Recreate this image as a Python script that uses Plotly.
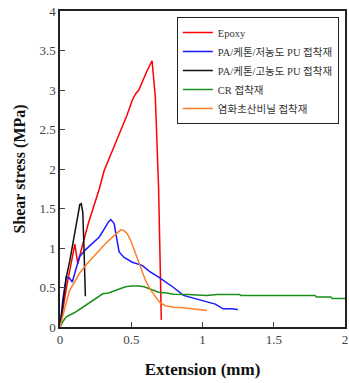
import plotly.graph_objects as go

epoxy_x = [0, 0.02, 0.05, 0.08, 0.104, 0.115, 0.125, 0.16, 0.2, 0.25, 0.276, 0.31, 0.35, 0.39, 0.43, 0.47, 0.507, 0.53, 0.553, 0.58, 0.61, 0.646, 0.669, 0.692, 0.711]
epoxy_y = [0, 0.22, 0.55, 0.82, 1.05, 0.92, 0.80, 1.05, 1.32, 1.6, 1.75, 1.98, 2.15, 2.32, 2.5, 2.68, 2.87, 2.95, 3.0, 3.12, 3.24, 3.37, 2.91, 1.75, 0.09]

hi_pu_x = [0, 0.02, 0.044, 0.07, 0.09, 0.114, 0.139, 0.149, 0.16, 0.17, 0.178]
hi_pu_y = [0, 0.3, 0.63, 0.85, 1.05, 1.31, 1.55, 1.56, 1.45, 0.9, 0.39]

lo_pu_x = [0, 0.02, 0.044, 0.065, 0.086, 0.11, 0.137, 0.18, 0.23, 0.276, 0.31, 0.34, 0.357, 0.38, 0.40, 0.415, 0.45, 0.507, 0.576, 0.63, 0.692, 0.75, 0.797, 0.866, 0.95, 1.03, 1.09, 1.144, 1.2, 1.248]
lo_pu_y = [0, 0.35, 0.63, 0.62, 0.57, 0.72, 0.89, 0.98, 1.07, 1.14, 1.24, 1.33, 1.36, 1.31, 1.1, 0.95, 0.88, 0.82, 0.78, 0.70, 0.63, 0.56, 0.50, 0.40, 0.36, 0.32, 0.29, 0.23, 0.23, 0.22]

cr_x = [0, 0.02, 0.044, 0.1, 0.16, 0.23, 0.3, 0.34, 0.39, 0.46, 0.5, 0.553, 0.59, 0.623, 0.66, 0.692, 0.75, 0.797, 0.9, 1.03, 1.1, 1.26, 1.27, 1.5, 1.79, 1.8, 1.9, 1.91, 2.0]
cr_y = [0, 0.07, 0.13, 0.18, 0.25, 0.33, 0.42, 0.43, 0.46, 0.51, 0.52, 0.52, 0.51, 0.485, 0.46, 0.44, 0.43, 0.415, 0.41, 0.40, 0.41, 0.41, 0.40, 0.40, 0.40, 0.38, 0.38, 0.36, 0.36]

pvc_x = [0, 0.02, 0.04, 0.067, 0.1, 0.137, 0.19, 0.253, 0.3, 0.345, 0.39, 0.426, 0.45, 0.472, 0.5, 0.53, 0.565, 0.6, 0.635, 0.669, 0.7, 0.739, 0.797, 0.866, 0.95, 1.03]
pvc_y = [0, 0.15, 0.28, 0.46, 0.56, 0.68, 0.8, 0.93, 1.02, 1.10, 1.17, 1.23, 1.22, 1.18, 1.08, 0.93, 0.75, 0.59, 0.47, 0.38, 0.31, 0.27, 0.25, 0.245, 0.23, 0.21]

names = ["Epoxy", "PA/케톤/저농도 PU 접착재", "PA/케톤/고농도 PU 접착재", "CR 접착재", "염화초산비닐 접착재"]
colors = ["#ff0000", "#1a1aff", "#111111", "#1a8f1a", "#ff7f2a"]
series = [(epoxy_x, epoxy_y), (lo_pu_x, lo_pu_y), (hi_pu_x, hi_pu_y), (cr_x, cr_y), (pvc_x, pvc_y)]

fig = go.Figure()
for (xs, ys), n, c in zip(series, names, colors):
    fig.add_trace(go.Scatter(x=xs, y=ys, mode="lines", name=n,
                             line=dict(color=c, width=1.5)))

serif = "Liberation Serif, 'Noto Sans CJK KR', serif"
fig.update_layout(
    width=349, height=383,
    margin=dict(l=60, r=1, t=11, b=56),
    plot_bgcolor="white", paper_bgcolor="white",
    font=dict(family=serif, color="#333"),
    showlegend=True,
    legend=dict(x=0.41, y=0.981, xanchor="left", yanchor="top",
                bordercolor="#222", borderwidth=1, bgcolor="white",
                font=dict(family=serif, size=10.5, color="#333"),
                tracegroupgap=0, itemwidth=30),
    xaxis=dict(range=[0, 2], tickvals=[0, 0.5, 1, 1.5, 2], ticktext=["0", "0.5", "1", "1.5", "2"],
               ticks="inside", ticklen=5, tickwidth=1.2, tickcolor="#444",
               ticklabeloverflow="allow",
               showline=True, linecolor="#222", linewidth=1.5, mirror=True,
               showgrid=False, zeroline=False,
               tickfont=dict(family=serif, size=13, color="#444"),
               title=dict(text="<b>Extension (mm)</b>", font=dict(family=serif, size=17, color="#111"), standoff=17)),
    yaxis=dict(range=[0, 4], tickvals=[0, 0.5, 1, 1.5, 2, 2.5, 3, 3.5, 4],
               ticktext=["0", "0.5", "1", "1.5", "2", "2.5", "3", "3.5", "4"],
               ticks="inside", ticklen=5, tickwidth=1.2, tickcolor="#444",
               showline=True, linecolor="#222", linewidth=1.5, mirror=True,
               showgrid=False, zeroline=False,
               tickfont=dict(family=serif, size=13, color="#444"),
               title=dict(text="<b>Shear stress (MPa)</b>", font=dict(family=serif, size=16, color="#111"), standoff=10)),
)

fig.write_html("out.html")
